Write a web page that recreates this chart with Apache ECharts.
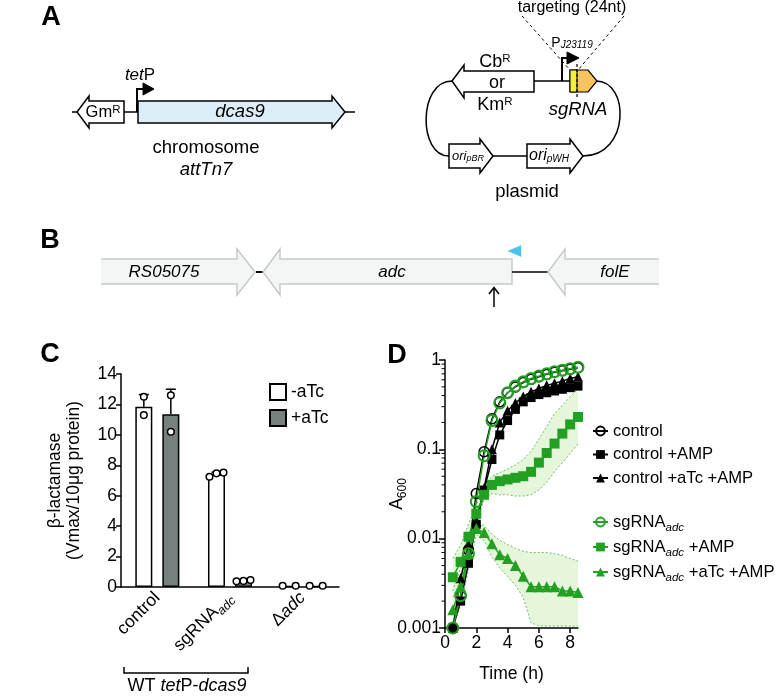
<!DOCTYPE html>
<html>
<head>
<meta charset="utf-8">
<title>CRISPRi knockdown of adc</title>
<script src="https://cdn.jsdelivr.net/npm/echarts@6/dist/echarts.min.js"></script>
<style>
  html, body { margin: 0; padding: 0; background: #fff; }
  #chart { width: 780px; height: 697px; }
</style>
</head>
<body>
<div id="chart"></div>
<script>
// ---------- C: beta-lactamase activity ----------
const strains = ['control', 'sgRNA_adc', 'Δadc'];
const meanMinusAtc = [11.85, 7.41, 0.08];
const meanPlusAtc = [11.35, 0.41, 0.08];
// top end of the error bars
const errTopMinusAtc = [12.65, 7.55, 0.08];
const errTopPlusAtc = [13.0, 0.46, 0.08];
// single replicates
const dotsMinusAtc = [[12.5, 11.3], [7.25, 7.47, 7.52], [0.08, 0.08]];
const dotsPlusAtc = [[12.6, 10.2], [0.38, 0.4, 0.46], [0.08, 0.08]];

// ---------- D: growth curves (A600 vs time) ----------
const hours = [0.5, 1, 1.5, 2, 2.5, 3, 3.5, 4, 4.5, 5, 5.5, 6, 6.5, 7, 7.5, 8, 8.5];
const ctrlOD = [0.001, 0.0023, 0.0075, 0.032, 0.094, 0.22, 0.34, 0.43, 0.5, 0.56, 0.61, 0.65, 0.69, 0.73, 0.76, 0.79, 0.82];
const ctrlAmpOD = [0.001, 0.002, 0.0053, 0.0145, 0.035, 0.077, 0.145, 0.21, 0.28, 0.34, 0.38, 0.41, 0.43, 0.45, 0.47, 0.49, 0.51];
const ctrlAtcAmpOD = [0.001, 0.0036, 0.0085, 0.0155, 0.037, 0.1, 0.2, 0.27, 0.33, 0.39, 0.44, 0.48, 0.52, 0.55, 0.58, 0.62, 0.65];
const sgOD = [0.001, 0.0023, 0.0068, 0.026, 0.085, 0.21, 0.33, 0.43, 0.51, 0.57, 0.62, 0.66, 0.7, 0.74, 0.77, 0.8, 0.83];
const sgAmpOD = [0.0037, 0.0055, 0.0105, 0.019, 0.031, 0.04, 0.044, 0.046, 0.048, 0.05, 0.056, 0.071, 0.091, 0.116, 0.15, 0.19, 0.23];
const sgAmpLow = [0.0022, 0.0035, 0.0075, 0.0145, 0.028, 0.032, 0.031, 0.031, 0.03, 0.03, 0.031, 0.035, 0.043, 0.056, 0.071, 0.09, 0.115];
const sgAmpHigh = [0.006, 0.0085, 0.0145, 0.024, 0.035, 0.05, 0.055, 0.06, 0.067, 0.077, 0.095, 0.13, 0.18, 0.25, 0.31, 0.39, 0.47];
const sgAtcAmpOD = [0.0016, 0.0029, 0.0068, 0.013, 0.0117, 0.0088, 0.0066, 0.006, 0.005, 0.0038, 0.0029, 0.0029, 0.0029, 0.0029, 0.0026, 0.0026, 0.0025];
const sgAtcAmpLow = [0.001, 0.0018, 0.0045, 0.011, 0.0095, 0.0062, 0.0047, 0.0038, 0.003, 0.0022, 0.00114, 0.00106, 0.00105, 0.00105, 0.00105, 0.00105, 0.00105];
const sgAtcAmpHigh = [0.0026, 0.0047, 0.0095, 0.0155, 0.014, 0.0112, 0.0096, 0.0086, 0.0078, 0.0072, 0.007, 0.007, 0.007, 0.0068, 0.0065, 0.006, 0.0056];
const hourTicks = [0, 2, 4, 6, 8];

const FONT = 'Liberation Sans, Arial, Helvetica, sans-serif';
const GREEN = '#22a022';
const GREY_BAR = '#76807f';
const BAR_W = 17;
const BAR_GAP = 10;
const BAR_SHIFT = (BAR_W + BAR_GAP) / 2;

const chart = echarts.init(document.getElementById('chart'));

// small helpers for the schematic drawings (panels A and B)
function poly(points, fill, stroke, lw) {
  return { type: 'polygon', shape: { points: points }, style: { fill: fill, stroke: stroke || '#000', lineWidth: lw || 1.5 } };
}
function pline(points, stroke, lw, dash) {
  return { type: 'polyline', shape: { points: points }, style: { fill: null, stroke: stroke || '#000', lineWidth: lw || 1.5, lineDash: dash || null } };
}
function txt(x, y, text, size, extra) {
  return {
    type: 'text', x: x, y: y,
    style: Object.assign({
      text: text, fontSize: size, fontFamily: FONT, fill: '#000',
      align: 'center', verticalAlign: 'middle'
    }, extra || {})
  };
}
const supRich = { sup: { fontSize: 11.5, verticalAlign: 'top', lineHeight: 10 } };

// gene arrows of panel B
const geneFill = '#f4f5f5';
const geneLine = '#c3cccc';

const graphics = [
  // panel letters
  txt(51, 18, 'A', 27, { fontWeight: 'bold' }),
  txt(50, 241, 'B', 27, { fontWeight: 'bold' }),
  txt(50, 355, 'C', 27, { fontWeight: 'bold' }),
  txt(397, 356, 'D', 27, { fontWeight: 'bold' }),

  // ---- A: chromosome ----
  pline([[72, 112], [355, 112]]),
  poly([[77, 112], [89, 96], [89, 101], [124, 101], [124, 123], [89, 123], [89, 128]], '#fff'),
  txt(103, 112, 'Gm{sup|R}', 16.5, { rich: supRich }),
  poly([[138, 101], [332, 101], [332, 96], [345, 112], [332, 128], [332, 123], [138, 123]], '#ddeef9'),
  txt(240, 112, 'dcas9', 18.5, { fontStyle: 'italic' }),
  pline([[137, 112], [137, 89], [144, 89]], '#000', 2),
  poly([[143, 83], [154, 89], [143, 95]], '#000', '#000', 1),
  txt(140, 75, '{i|tet}P', 17, { rich: { i: { fontStyle: 'italic', fontSize: 17 } } }),
  txt(206, 148, 'chromosome', 18.5),
  txt(206, 170, 'attTn7', 18.5, { fontStyle: 'italic' }),

  // ---- A: plasmid ----
  pline([[452, 81], [596, 81]]),
  pline([[449, 156], [583, 156]]),
  { type: 'bezierCurve', shape: { x1: 452, y1: 81, cpx1: 418, cpy1: 81, cpx2: 418, cpy2: 156, x2: 449, y2: 156 }, style: { fill: null, stroke: '#000', lineWidth: 1.5 } },
  { type: 'bezierCurve', shape: { x1: 596, y1: 81, cpx1: 630, cpy1: 81, cpx2: 630, cpy2: 156, x2: 583, y2: 156 }, style: { fill: null, stroke: '#000', lineWidth: 1.5 } },
  poly([[452, 81], [464, 65], [464, 71], [534, 71], [534, 92], [464, 92], [464, 98]], '#fff'),
  txt(495, 62, 'Cb{sup|R}', 18, { rich: supRich }),
  txt(497, 83, 'or', 18),
  txt(495, 105, 'Km{sup|R}', 18, { rich: supRich }),
  poly([[449, 144], [480, 144], [480, 139], [493, 156], [480, 173], [480, 168], [449, 168]], '#fff'),
  txt(468, 156, '{i|ori}{s|pBR}', 13, { rich: { i: { fontStyle: 'italic', fontSize: 13 }, s: { fontStyle: 'italic', fontSize: 9, verticalAlign: 'bottom', lineHeight: 10 } } }),
  poly([[527, 144], [570, 144], [570, 139], [583, 156], [570, 173], [570, 168], [527, 168]], '#fff'),
  txt(549, 156, '{i|ori}{s|pWH}', 16, { rich: { i: { fontStyle: 'italic', fontSize: 16 }, s: { fontStyle: 'italic', fontSize: 10, verticalAlign: 'bottom', lineHeight: 10 } } }),
  pline([[562, 81], [562, 58], [568, 58]], '#000', 2),
  poly([[567, 52], [579, 58], [567, 64]], '#000', '#000', 1),
  txt(572, 43, 'P{s|J23119}', 14, { rich: { s: { fontStyle: 'italic', fontSize: 10, verticalAlign: 'bottom', lineHeight: 12 } } }),
  poly([[570, 70], [588, 70], [597, 81], [588, 92], [570, 92]], '#f7c35c', '#000', 1.2),
  { type: 'rect', shape: { x: 570, y: 70, width: 7, height: 22 }, style: { fill: '#f2ef3e', stroke: '#000', lineWidth: 1 } },
  pline([[577, 64], [577, 99]], '#000', 1.2, [3, 2]),
  pline([[522, 16], [570, 70]], '#000', 1, [3, 3]),
  pline([[624, 16], [578, 70]], '#000', 1, [3, 3]),
  txt(572, 8, 'targeting (24nt)', 16),
  txt(578, 110, 'sgRNA', 18.5, { fontStyle: 'italic' }),
  txt(527, 192, 'plasmid', 18.5),

  // ---- B: adc locus ----
  poly([[101, 259], [237, 259], [237, 249], [255, 272], [237, 295], [237, 284], [101, 284]], geneFill, 'none', 0),
  pline([[101, 259], [237, 259], [237, 249], [255, 272], [237, 295], [237, 284], [101, 284]], geneLine, 1.5),
  pline([[256, 272], [263, 272]], '#000', 2),
  poly([[263, 272], [280, 249], [280, 259], [512, 259], [512, 284], [280, 284], [280, 295]], geneFill, geneLine, 1.5),
  pline([[512, 272], [548, 272]], '#000', 1.5),
  poly([[659, 259], [565, 259], [565, 249], [548, 272], [565, 295], [565, 284], [659, 284]], geneFill, 'none', 0),
  pline([[659, 259], [565, 259], [565, 249], [548, 272], [565, 295], [565, 284], [659, 284]], geneLine, 1.5),
  txt(164, 272, 'RS05075', 17, { fontStyle: 'italic' }),
  txt(392, 272, 'adc', 17, { fontStyle: 'italic' }),
  txt(615, 272, 'folE', 17, { fontStyle: 'italic' }),
  poly([[508, 251], [521, 245.5], [521, 256.5]], '#4cc3ef', '#4cc3ef', 0.5),
  pline([[494, 307], [494, 288]], '#000', 1.5),
  pline([[489, 294], [494, 287.5], [499, 294]], '#000', 1.5),

  // ---- C: strain bracket ----
  pline([[124, 667], [124, 673], [248, 673], [248, 667]], '#000', 1.5),
  txt(187, 686, 'WT {i|tet}P-{i|dcas9}', 18, { rich: { i: { fontStyle: 'italic', fontSize: 18 } } })
];

// replicate points of panel C: cluster side by side when they overlap
function jitter(vals) {
  if (vals.length === 3) return [-7, 0, 7];
  if (vals.length === 2 && Math.abs(vals[0] - vals[1]) < 0.5) return [-6.5, 6.5];
  return vals.map(() => 0);
}
const dotData = [];
[[dotsMinusAtc, -1], [dotsPlusAtc, 1]].forEach(([groups, side]) => {
  groups.forEach((vals, i) => {
    const jit = jitter(vals);
    vals.forEach((v, k) => dotData.push([i, v, side, jit[k]]));
  });
});
const errData = [];
strains.forEach((s, i) => {
  errData.push([i, meanMinusAtc[i], errTopMinusAtc[i], -1]);
  errData.push([i, meanPlusAtc[i], errTopPlusAtc[i], 1]);
});

// minor ticks of the log axis in D (2..9 of each decade)
const minorTicks = [];
[-3, -2, -1].forEach(e => {
  for (let m = 2; m <= 9; m++) minorTicks.push(m * Math.pow(10, e));
});

function pairs(ys) { return hours.map((t, i) => [t, ys[i]]); }

function bandSeries(low, high) {
  return {
    type: 'custom', xAxisIndex: 1, yAxisIndex: 1, z: 1, silent: true,
    data: [[hours[0], low[0]]],
    renderItem: function (params, api) {
      const pts = [];
      hours.forEach((t, i) => pts.push(api.coord([t, high[i]])));
      for (let i = hours.length - 1; i >= 0; i--) pts.push(api.coord([hours[i], low[i]]));
      return { type: 'polygon', shape: { points: pts }, style: { fill: '#e6f6da', stroke: null } };
    }
  };
}
function edgeSeries(ys) {
  return {
    type: 'line', xAxisIndex: 1, yAxisIndex: 1, z: 2, silent: true,
    data: pairs(ys), symbol: 'none',
    lineStyle: { color: '#4cb04c', width: 0.8, type: [2, 2] }
  };
}
function growthSeries(name, ys, color, symbol, size, hollow) {
  return {
    name: name, type: 'line', xAxisIndex: 1, yAxisIndex: 1, z: 5,
    data: pairs(ys), symbol: symbol, symbolSize: size,
    lineStyle: { color: color, width: 1.5 },
    itemStyle: hollow
      ? { color: 'rgba(255,255,255,0)', borderColor: color, borderWidth: name === 'control' ? 1.5 : 2 }
      : { color: color },
    emphasis: { disabled: true }
  };
}

const subRich = {
  sub: { fontSize: 11.5, fontStyle: 'italic', verticalAlign: 'bottom', lineHeight: 10 }
};
function legendName(name) { return name.replace('_adc', '{sub|adc}'); }

const option = {
  animation: false,
  backgroundColor: '#fff',
  textStyle: { fontFamily: FONT, color: '#000' },
  graphic: graphics,
  grid: [
    { left: 121, top: 374, width: 218, height: 213 },
    { left: 445, top: 360, width: 133, height: 268 }
  ],
  legend: [
    {
      data: ['-aTc', '+aTc'], orient: 'vertical', left: 264, top: 378,
      itemWidth: 16, itemHeight: 16, itemGap: 8, icon: 'rect',
      textStyle: { fontSize: 17.5, color: '#000', fontFamily: FONT }
    },
    {
      data: ['control', 'control +AMP', 'control +aTc +AMP'], orient: 'vertical', left: 587, top: 416,
      itemWidth: 15, itemHeight: 11, itemGap: 3.5,
      textStyle: { fontSize: 16.6, color: '#000', fontFamily: FONT, lineHeight: 20 }
    },
    {
      data: ['sgRNA_adc', 'sgRNA_adc +AMP', 'sgRNA_adc +aTc +AMP'], orient: 'vertical', left: 587, top: 505,
      itemWidth: 15, itemHeight: 11, itemGap: 1,
      formatter: legendName,
      textStyle: { fontSize: 16.6, color: '#000', fontFamily: FONT, lineHeight: 24, rich: subRich }
    }
  ],
  xAxis: [
    {
      type: 'category', gridIndex: 0, data: strains,
      axisLine: { lineStyle: { color: '#000', width: 1.5 } },
      axisTick: { alignWithLabel: true, length: 5, lineStyle: { color: '#000', width: 1.5 } },
      axisLabel: {
        rotate: 45, fontSize: 17.5, color: '#000', margin: 8, lineHeight: 24,
        formatter: v => v === 'sgRNA_adc' ? 'sgRNA{sub|adc}' : (v === 'Δadc' ? 'Δ{it|adc}' : v),
        rich: {
          sub: { fontSize: 12.5, fontStyle: 'italic', verticalAlign: 'bottom', lineHeight: 10 },
          it: { fontSize: 17.5, fontStyle: 'italic' }
        }
      }
    },
    {
      type: 'value', gridIndex: 1, min: 0, max: 8.5, interval: 2,
      axisLine: { lineStyle: { color: '#000', width: 1.5 } },
      axisTick: { customValues: hourTicks, length: 5, lineStyle: { color: '#000', width: 1.5 } },
      axisLabel: { customValues: hourTicks, fontSize: 17.5, color: '#000', margin: 6, formatter: v => (v % 2 === 0 ? String(v) : '') },
      splitLine: { show: false },
      name: 'Time (h)', nameLocation: 'middle', nameGap: 37, nameMoveOverlap: false,
      nameTextStyle: { fontSize: 17.5, color: '#000' }
    }
  ],
  yAxis: [
    {
      type: 'value', gridIndex: 0, min: 0, max: 14, interval: 2,
      axisLine: { show: true, lineStyle: { color: '#000', width: 1.5 } },
      axisTick: { show: true, length: 5, lineStyle: { color: '#000', width: 1.5 } },
      axisLabel: { fontSize: 17.5, color: '#000', margin: 4 },
      splitLine: { show: false },
      name: 'β-lactamase\n(Vmax/10μg protein)', nameLocation: 'middle', nameGap: 37,
      nameTextStyle: { fontSize: 17.5, color: '#000', lineHeight: 19 }
    },
    {
      type: 'log', gridIndex: 1, position: 'left', min: 0.001, max: 1, logBase: 10,
      axisLine: { show: true, lineStyle: { color: '#000', width: 1.5 } },
      axisTick: { show: true, length: 6, lineStyle: { color: '#000', width: 1.5 } },
      axisLabel: {
        fontSize: 17.5, color: '#000', margin: 4,
        formatter: v => {
          const e = Math.round(Math.log10(v));
          return e >= 0 ? '1' : '0.' + '0'.repeat(-e - 1) + '1';
        }
      },
      splitLine: { show: false },
      name: 'A{sub|600}', nameLocation: 'middle', nameGap: 36, nameMoveOverlap: false,
      nameTextStyle: { fontSize: 17.5, color: '#000', lineHeight: 24, rich: { sub: { fontSize: 12, verticalAlign: 'bottom', lineHeight: 10 } } }
    }
  ],
  series: [
    // ---- C ----
    {
      name: '-aTc', type: 'bar', xAxisIndex: 0, yAxisIndex: 0, data: meanMinusAtc,
      barWidth: BAR_W, barGap: (BAR_GAP / BAR_W * 100).toFixed(0) + '%',
      itemStyle: { color: '#fff', borderColor: '#000', borderWidth: 1.5 }
    },
    {
      name: '+aTc', type: 'bar', xAxisIndex: 0, yAxisIndex: 0, data: meanPlusAtc,
      barWidth: BAR_W,
      itemStyle: { color: GREY_BAR, borderColor: '#000', borderWidth: 1.5 }
    },
    {
      type: 'custom', xAxisIndex: 0, yAxisIndex: 0, z: 4, silent: true,
      data: errData,
      renderItem: function (params, api) {
        const shift = api.value(3) * BAR_SHIFT;
        const a = api.coord([api.value(0), api.value(1)]);
        const b = api.coord([api.value(0), api.value(2)]);
        if (a[1] - b[1] < 1) return null;
        const x = a[0] + shift;
        return {
          type: 'group', children: [
            { type: 'line', shape: { x1: x, y1: a[1], x2: x, y2: b[1] }, style: { stroke: '#000', lineWidth: 1.5 } },
            { type: 'line', shape: { x1: x - 5, y1: b[1], x2: x + 5, y2: b[1] }, style: { stroke: '#000', lineWidth: 1.5 } }
          ]
        };
      }
    },
    {
      type: 'custom', xAxisIndex: 0, yAxisIndex: 0, z: 5, silent: true,
      data: dotData,
      renderItem: function (params, api) {
        const p = api.coord([api.value(0), api.value(1)]);
        return {
          type: 'circle',
          shape: { cx: p[0] + api.value(2) * BAR_SHIFT + api.value(3), cy: p[1], r: 3.3 },
          style: { fill: '#fff', stroke: '#000', lineWidth: 1.5 }
        };
      }
    },
    // ---- D ----
    {
      // minor ticks of the log axis, placed through the axis scale
      type: 'custom', xAxisIndex: 1, yAxisIndex: 1, clip: false, silent: true, z: 3,
      data: minorTicks.map(v => [0, v]),
      renderItem: function (params, api) {
        const p = api.coord([api.value(0), api.value(1)]);
        return { type: 'line', shape: { x1: p[0] - 3.5, y1: p[1], x2: p[0], y2: p[1] }, style: { stroke: '#000', lineWidth: 1 } };
      }
    },
    bandSeries(sgAmpLow, sgAmpHigh),
    bandSeries(sgAtcAmpLow, sgAtcAmpHigh),
    edgeSeries(sgAmpLow), edgeSeries(sgAmpHigh),
    edgeSeries(sgAtcAmpLow), edgeSeries(sgAtcAmpHigh),
    growthSeries('control', ctrlOD, '#000', 'circle', 10, true),
    growthSeries('control +AMP', ctrlAmpOD, '#000', 'rect', 9, false),
    growthSeries('control +aTc +AMP', ctrlAtcAmpOD, '#000', 'triangle', 10, false),
    growthSeries('sgRNA_adc +AMP', sgAmpOD, GREEN, 'rect', 10, false),
    growthSeries('sgRNA_adc +aTc +AMP', sgAtcAmpOD, GREEN, 'triangle', 11, false),
    growthSeries('sgRNA_adc', sgOD, GREEN, 'circle', 11, true)
  ]
};

chart.setOption(option);
</script>
</body>
</html>
